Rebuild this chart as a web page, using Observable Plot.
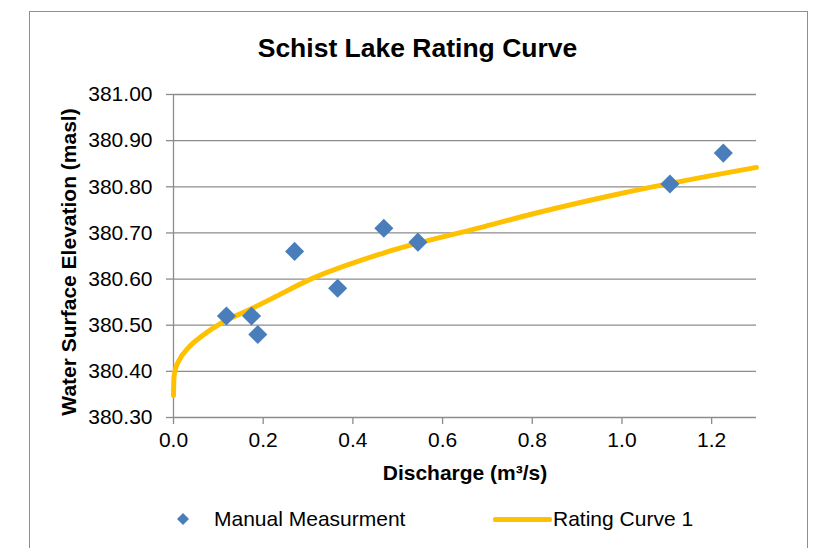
<!DOCTYPE html>
<html><head><meta charset="utf-8">
<script src="https://cdn.jsdelivr.net/npm/d3@7"></script>
<script src="https://cdn.jsdelivr.net/npm/@observablehq/plot@0.6"></script>
<style>
html,body{margin:0;padding:0;background:#fff;}
#wrap{position:relative;width:818px;height:548px;overflow:hidden;font-family:"Liberation Sans",Arial,sans-serif;color:#000;}
#border{position:absolute;left:29px;top:11px;width:779px;height:620px;border:1.5px solid #8f8f8f;box-sizing:border-box;}
#title{position:absolute;left:0;width:835px;top:35px;text-align:center;font-size:26.5px;line-height:26px;font-weight:bold;}
#chart{position:absolute;left:0;top:80px;}
.leg{position:absolute;font-size:21px;line-height:21px;top:508px;white-space:nowrap;}
</style></head>
<body><div id="wrap">
<div id="border"></div>
<div id="title">Schist Lake Rating Curve</div>
<div id="chart"></div>
<svg class="legsym" style="position:absolute;left:176px;top:512px" width="14" height="14"><path d="M7,1L13,7L7,13L1,7Z" fill="#4a7ebb"/></svg>
<div class="leg" style="left:214px">Manual Measurment</div>
<div style="position:absolute;left:493px;top:516.5px;width:59px;height:5px;background:#ffc000;border-radius:2px"></div>
<div class="leg" style="left:553px">Rating Curve 1</div>
</div>
<script>
// Manual measurements (discharge m³/s, elevation masl)
const measQ = [0.118, 0.174, 0.188, 0.270, 0.366, 0.469, 0.545, 1.107, 1.226];
const measH = [380.52, 380.52, 380.48, 380.66, 380.58, 380.71, 380.68, 380.806, 380.873];
// Rating curve points
const curveQ = [0, 0.001, 0.0045, 0.012, 0.034, 0.064, 0.109, 0.168, 0.228, 0.295, 0.47, 0.686, 0.8, 1.0, 1.3];
const curveH = [380.347, 380.387, 380.405, 380.423, 380.452, 380.477, 380.506, 380.533, 380.562, 380.595, 380.657, 380.712, 380.741, 380.786, 380.842];
// Tick labels
const xTicks = [0, 0.2, 0.4, 0.6, 0.8, 1.0, 1.2];
const yTicks = [380.3, 380.4, 380.5, 380.6, 380.7, 380.8, 380.9, 381.0];
const xTitle = "Discharge (m³/s)";
const yTitle = "Water Surface Elevation (masl)";

const meas = measQ.map((q, i) => ({q, h: measH[i]}));
const curve = curveQ.map((q, i) => ({q, h: curveH[i]}));

const grey = "#8c8c8c";
const chart = Plot.plot({
  width: 818,
  height: 400,
  marginLeft: 173,
  marginRight: 62,
  marginTop: 14,
  marginBottom: 63,
  style: {fontFamily: '"Liberation Sans", Arial, sans-serif', fontSize: "21px", color: "#000", background: "transparent", overflow: "visible"},
  x: {domain: [0, 1.3], ticks: xTicks},
  y: {domain: [380.3, 381.0], ticks: yTicks},
  marks: [
    Plot.gridY(yTicks, {stroke: grey, strokeOpacity: 1, strokeWidth: 1.3}),
    Plot.ruleX([0], {stroke: grey, strokeWidth: 1.3}),
    Plot.axisY(yTicks, {tickSize: 7, tickPadding: 14, stroke: grey, strokeWidth: 1.3, tickFormat: d => d.toFixed(2), label: null, fontSize: 21, fill: "#000"}),
    Plot.axisX(xTicks, {tickSize: 7, tickPadding: 8, stroke: grey, strokeWidth: 1.3, tickFormat: d => d.toFixed(1), label: null, fontSize: 21, fill: "#000"}),
    Plot.line(curve, {x: "q", y: "h", stroke: "#ffc000", strokeWidth: 5, curve: "monotone-x"}),
    Plot.dot(meas, {x: "q", y: "h", symbol: "diamond2", r: 8.6, fill: "#4a7ebb", stroke: null}),
    Plot.text([xTitle], {frameAnchor: "bottom", dy: 56, lineAnchor: "middle", fontWeight: "bold", fontSize: 21, fill: "#000"}),
    Plot.text([yTitle], {frameAnchor: "left", dx: -104, dy: 6, rotate: -90, textAnchor: "middle", lineAnchor: "middle", fontWeight: "bold", fontSize: 21, fill: "#000"})
  ]
});
document.getElementById("chart").appendChild(chart);
</script>
</body></html>
